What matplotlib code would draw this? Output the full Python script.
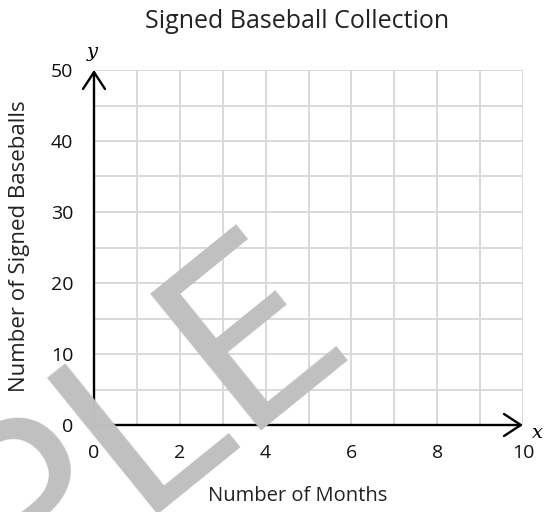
import matplotlib
matplotlib.use('Agg')
import matplotlib.pyplot as plt
from matplotlib.ticker import MultipleLocator

# chart data / axis setup
title = 'Signed Baseball Collection'
x_label = 'Number of Months'
y_label = 'Number of Signed Baseballs'
x_ticks = [0, 2, 4, 6, 8, 10]
y_ticks = [0, 10, 20, 30, 40, 50]
x_max = 10
y_max = 50

font = 'Open Sans'
grid_col = '#d9d9d9'
arrow = '->,head_length=0.55,head_width=0.36'

fig = plt.figure(figsize=(5.52, 5.12), dpi=100)
ax = fig.add_axes([94/552, 1-425/512, (523-94)/552, (425-70)/512])
ax.set_xlim(0, x_max)
ax.set_ylim(0, y_max)

ax.xaxis.set_minor_locator(MultipleLocator(1))
ax.yaxis.set_minor_locator(MultipleLocator(5))
ax.set_xticks(x_ticks)
ax.set_yticks(y_ticks)
ax.set_xticklabels([str(t) for t in x_ticks], fontfamily=font, fontsize=14)
ax.set_yticklabels([str(t) for t in y_ticks], fontfamily=font, fontsize=14)
ax.tick_params(which='both', length=0, labelcolor='#111111')
ax.tick_params(axis='x', pad=14)
ax.tick_params(axis='y', pad=15)
ax.grid(which='both', color=grid_col, lw=1.4)
for s in ax.spines.values():
    s.set_visible(False)
ax.set_axisbelow(True)
# outer grid lines at right and top
ax.axvline(x_max, color=grid_col, lw=1.4, zorder=0.5)
ax.axhline(y_max, color=grid_col, lw=1.4, zorder=0.5)

# axes with open arrowheads
ax.annotate('', xy=(x_max, 0), xytext=(0, 0), annotation_clip=False,
            arrowprops=dict(arrowstyle=arrow, lw=1.7, color='black', mutation_scale=22,
                            shrinkA=0, shrinkB=0))
ax.annotate('', xy=(0, y_max), xytext=(0, 0), annotation_clip=False,
            arrowprops=dict(arrowstyle=arrow, lw=1.7, color='black', mutation_scale=22,
                            shrinkA=0, shrinkB=0))
fig.text(537/552, 1-433/512, 'x', fontfamily='DejaVu Serif', style='italic',
         fontsize=14, ha='center', va='center')
fig.text(92/552, 1-52/512, 'y', fontfamily='DejaVu Serif', style='italic',
         fontsize=14, ha='center', va='center')

fig.text(297/552, 1-22/512, title, fontfamily=font, fontsize=18,
         ha='center', va='center', color='#222222')
fig.text(298/552, 1-496/512, x_label, fontfamily=font, fontsize=14.5,
         ha='center', va='center', color='#222222')
fig.text(20/552, 1-246/512, y_label, fontfamily=font, fontsize=16,
         ha='center', va='center', rotation=90, color='#222222')

# watermark
fig.text(353/552, 1-348/512, 'SAMPLE', fontfamily='Roboto',
         fontsize=178, color='#c0c0c0', rotation=39, rotation_mode='anchor',
         ha='right', va='baseline', zorder=10)

fig.savefig('out.png', dpi=100)
